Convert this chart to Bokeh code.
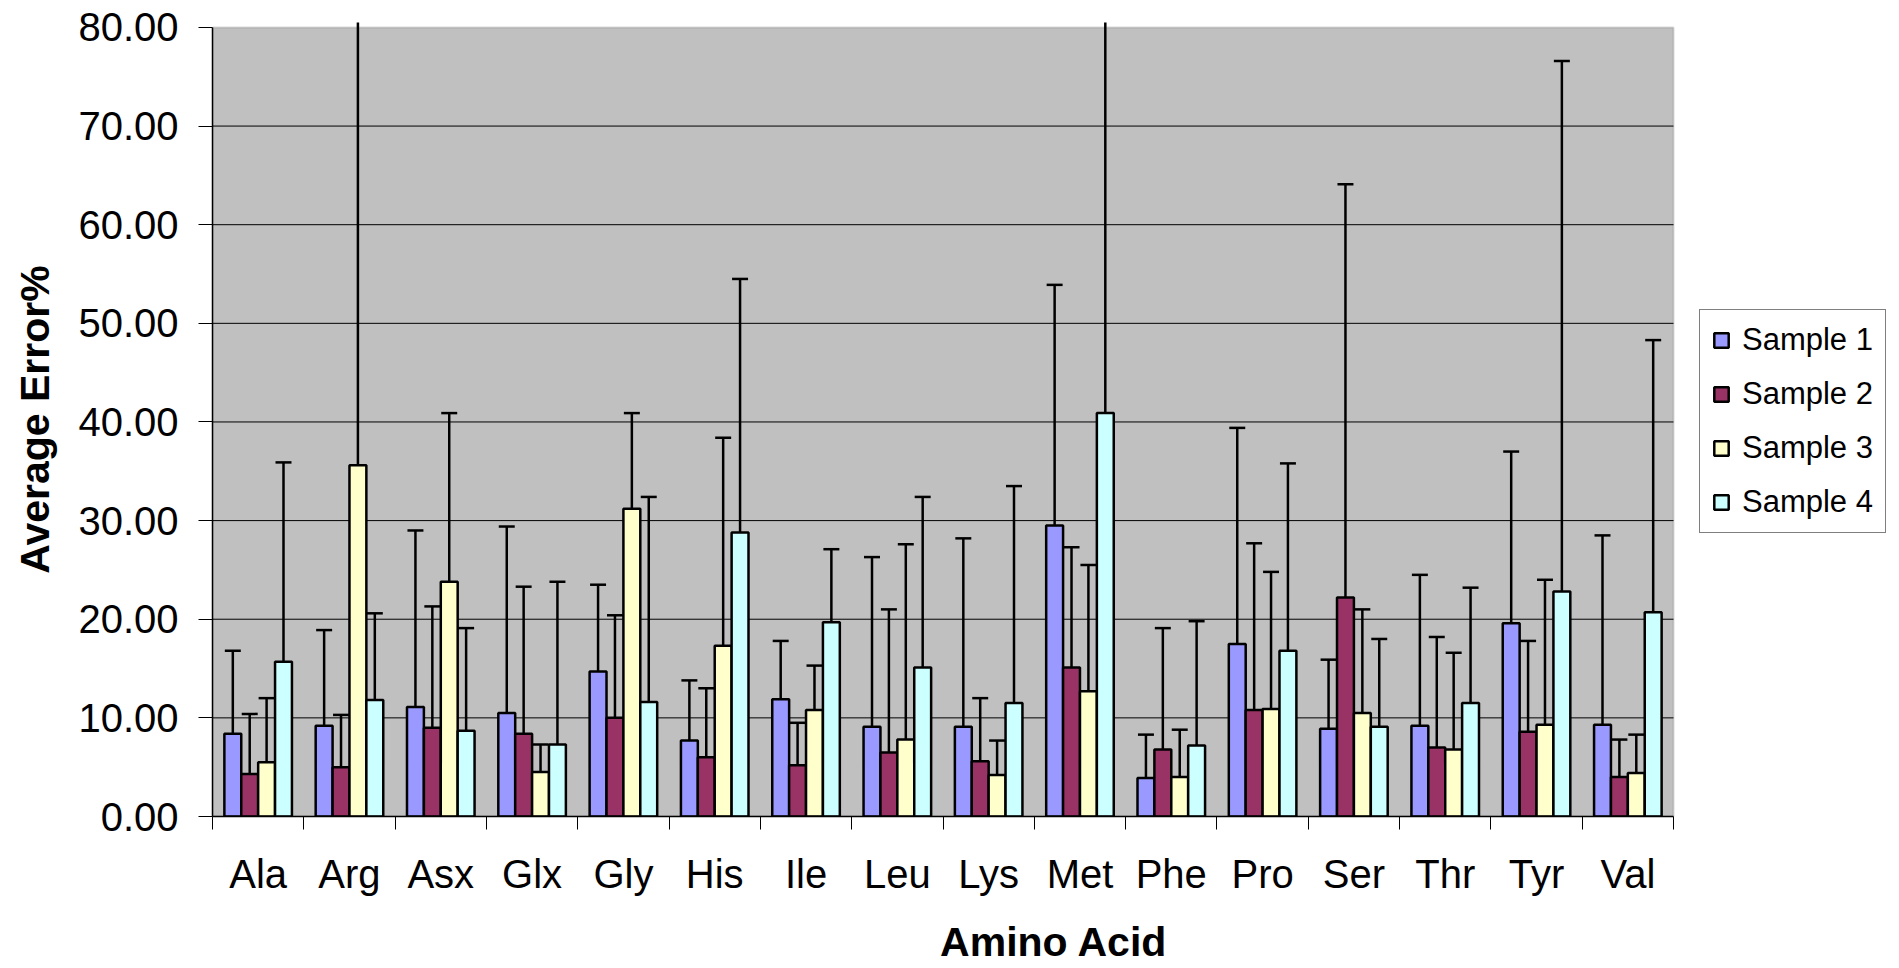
from bokeh.plotting import figure
from bokeh.models import (ColumnDataSource, FixedTicker, PrintfTickFormatter,
                          BoxAnnotation, Legend, LegendItem)
from bokeh.embed import file_html
from bokeh.resources import INLINE

# ---------------- data ----------------
amino_acids = ["Ala", "Arg", "Asx", "Glx", "Gly", "His", "Ile", "Leu",
               "Lys", "Met", "Phe", "Pro", "Ser", "Thr", "Tyr", "Val"]
series_names = ["Sample 1", "Sample 2", "Sample 3", "Sample 4"]

sample1 = [8.4, 9.2, 11.1, 10.5, 14.7, 7.7, 11.9, 9.1, 9.1, 29.5, 3.9, 17.5, 8.9, 9.2, 19.6, 9.3]
sample2 = [4.3, 5.0, 9.0, 8.4, 10.0, 6.0, 5.2, 6.5, 5.6, 15.1, 6.8, 10.8, 22.2, 7.0, 8.6, 4.0]
sample3 = [5.5, 35.6, 23.8, 4.5, 31.2, 17.3, 10.8, 7.8, 4.2, 12.7, 4.0, 10.9, 10.5, 6.8, 9.3, 4.4]
sample4 = [15.7, 11.8, 8.7, 7.3, 11.6, 28.8, 19.7, 15.1, 11.5, 40.9, 7.2, 16.8, 9.1, 11.5, 22.8, 20.7]

error1 = [8.4, 9.7, 17.9, 18.9, 8.8, 6.1, 5.9, 17.2, 19.1, 24.4, 4.4, 21.9, 7.0, 15.3, 17.4, 19.2]
error2 = [6.1, 5.3, 12.3, 14.9, 10.4, 7.0, 4.3, 14.5, 6.4, 12.2, 12.3, 16.9, 41.9, 11.2, 9.2, 3.8]
error3 = [6.5, 50.0, 17.1, 2.8, 9.7, 21.1, 4.5, 19.8, 3.5, 12.8, 4.8, 13.9, 10.5, 9.8, 14.7, 3.9]
error4 = [20.2, 8.8, 10.4, 16.5, 20.8, 25.7, 7.4, 17.3, 22.0, 45.0, 12.6, 19.0, 8.9, 11.7, 53.8, 27.6]

y_ticks = [0, 10, 20, 30, 40, 50, 60, 70, 80]

values = [sample1, sample2, sample3, sample4]
errors = [error1, error2, error3, error4]
colors = ["#9999FF", "#993366", "#FFFFCC", "#CCFFFF"]

# ---------------- layout / styling ----------------
FONT = "Liberation Sans"
BAR_W = 0.185
CAP_W = 0.175
N = len(amino_acids)
Y_MAX = 80
Y_TOP = 80.5

W, H = 1899, 968
LEFT, RIGHT_BORDER = 212, 4
PLOT_RIGHT = 1673                      # where the grey plot area ends
X_END = N * (W - LEFT - RIGHT_BORDER) / (PLOT_RIGHT - LEFT)

p = figure(width=W, height=H, x_range=(0, X_END), y_range=(0, Y_TOP),
           output_backend="svg", toolbar_location=None,
           min_border_left=LEFT, min_border_right=RIGHT_BORDER,
           min_border_top=22, min_border_bottom=H - 816,
           background_fill_color="white", border_fill_color="white",
           outline_line_color=None)

# plot-area background (grey) with grey border
p.add_layout(BoxAnnotation(left=0, right=N, bottom=0, top=Y_MAX,
                           fill_color="#C0C0C0", fill_alpha=1.0,
                           line_color="#808080", line_width=2, level="image"))

# horizontal grid lines limited to the plot area
p.xgrid.visible = False
p.ygrid.visible = False
grid_src = ColumnDataSource(dict(y=y_ticks[1:-1]))
p.segment(x0=0, x1=N, y0="y", y1="y", source=grid_src,
          line_color="black", line_width=1, level="underlay")

# y axis
p.yaxis.bounds = (0, Y_MAX)
p.yaxis.ticker = FixedTicker(ticks=y_ticks)
p.yaxis.formatter = PrintfTickFormatter(format="%.2f")
p.yaxis.major_tick_out = 14
p.yaxis.major_tick_in = 0
p.yaxis.minor_tick_out = 0
p.yaxis.minor_tick_in = 0
p.yaxis.major_tick_line_color = "black"
p.yaxis.axis_line_color = "black"
p.yaxis.axis_line_width = 1.5
p.yaxis.major_label_standoff = 20
p.yaxis.major_label_text_font = FONT
p.yaxis.major_label_text_font_size = "40px"
p.yaxis.major_label_text_color = "black"
p.yaxis.axis_label = "Average Error%"
p.yaxis.axis_label_text_font = FONT
p.yaxis.axis_label_text_font_size = "41px"
p.yaxis.axis_label_text_font_style = "bold"
p.yaxis.axis_label_text_color = "black"
p.yaxis.axis_label_standoff = 17

# x axis: labels at category centres, tick marks at category boundaries
centres = [i + 0.5 for i in range(N)]
p.xaxis.bounds = (0, N)
p.xaxis.ticker = FixedTicker(ticks=centres, minor_ticks=list(range(N + 1)))
p.xaxis.major_label_overrides = {c: name for c, name in zip(centres, amino_acids)}
p.xaxis.major_tick_out = 0
p.xaxis.major_tick_in = 0
p.xaxis.minor_tick_out = 13
p.xaxis.minor_tick_in = 0
p.xaxis.minor_tick_line_color = "black"
p.xaxis.axis_line_color = "black"
p.xaxis.axis_line_width = 1.5
p.xaxis.major_label_standoff = 22
p.xaxis.major_label_text_font = FONT
p.xaxis.major_label_text_font_size = "40px"
p.xaxis.major_label_text_color = "black"
p.xaxis.axis_label = "Amino Acid"
p.xaxis.axis_label_text_font = FONT
p.xaxis.axis_label_text_font_size = "41px"
p.xaxis.axis_label_text_font_style = "bold"
p.xaxis.axis_label_text_color = "black"
p.xaxis.axis_label_standoff = 20

# bars and error bars
bar_renderers = []
sources = []
for j, (vals, errs, col) in enumerate(zip(values, errors, colors)):
    xs = [i + 0.5 + (j - 1.5) * BAR_W for i in range(N)]
    upper = [v + e for v, e in zip(vals, errs)]
    src = ColumnDataSource(dict(
        x=xs, top=vals, upper=upper,
        cl=[x - CAP_W / 2 for x in xs], cr=[x + CAP_W / 2 for x in xs],
    ))
    sources.append(src)
    r = p.vbar(x="x", top="top", bottom=0, width=BAR_W, source=src,
               fill_color=col, line_color="black", line_width=2.5)
    bar_renderers.append(r)

for src in sources:
    p.segment(x0="x", y0="top", x1="x", y1="upper", source=src,
              line_color="black", line_width=2.5)
    p.segment(x0="cl", y0="upper", x1="cr", y1="upper", source=src,
              line_color="black", line_width=2.5)

# legend (inside the frame, in the white area right of the plot area)
legend = Legend(items=[LegendItem(label=name, renderers=[r])
                       for name, r in zip(series_names, bar_renderers)],
                location=(1699 - LEFT, 816 - 533), margin=0, padding=12,
                spacing=18, glyph_width=18, glyph_height=18, label_standoff=12,
                label_text_font=FONT, label_text_font_size="31px",
                label_text_color="black",
                border_line_color="black", border_line_width=1,
                background_fill_color="white", background_fill_alpha=1.0)
p.add_layout(legend)

open("out.html", "w").write(file_html(p, INLINE))
